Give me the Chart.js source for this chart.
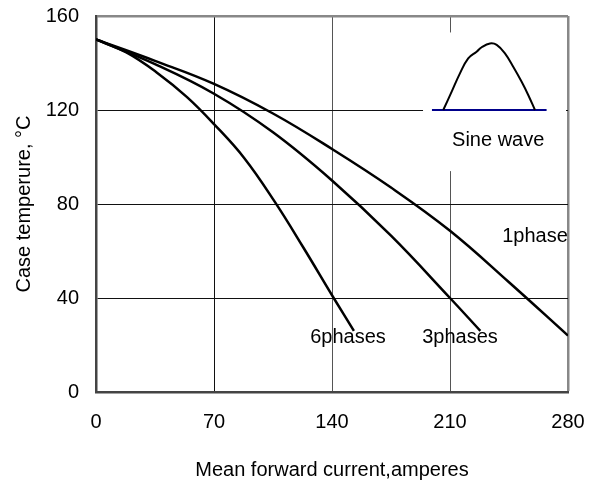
<!DOCTYPE html>
<html><head><meta charset="utf-8">
<script src="https://cdn.jsdelivr.net/npm/chart.js@4"></script>
<style>html,body{margin:0;padding:0;background:#fff}#wrap{width:597px;height:484px}</style>
</head><body><div id="wrap"><canvas id="c" width="597" height="484"></canvas></div>
<script>
const xTicks = [0, 70, 140, 210, 280];
const yTicks = [0, 40, 80, 120, 160];
const phase1X = [0, 35, 70, 105, 140, 175, 210, 245, 280];
const phase1Y = [150, 140.9, 131.1, 118.5, 103.4, 87, 68.6, 46.7, 24];
const phase3X = [0, 35, 70, 105, 140, 175, 210, 228];
const phase3Y = [150, 139.5, 126.9, 110.5, 90, 66.5, 40, 26];
const phase6X = [0, 18, 36, 54, 70, 88, 106, 123, 141, 153];
const phase6Y = [150, 144.5, 136, 125.5, 114, 99.5, 81, 61.5, 40, 26];
const sineX = [206, 211, 215.9, 220.8, 225.8, 228.8, 233.7, 237.7, 242.6, 247.5, 252.5, 256.4, 260.4];
const sineY = [120, 127.8, 135.6, 142, 144.8, 146.7, 148.3, 147.7, 144.1, 138.4, 132, 126.4, 120];
const baseX = [199.3, 267.3];
const baseY = [120, 120];
const labelText = ['1phase', '3phases', '6phases', 'Sine wave'];
const labelX = [260.4, 215.9, 149.5, 238.6];
const labelY = [66, 23, 23, 107];

const FONT = "'Liberation Sans', Arial, sans-serif";
const FS = 20;
const pts = (xs, ys) => xs.map((x, i) => ({x, y: ys[i]}));

const insetPlugin = {
  id: 'inset',
  beforeDatasetsDraw(chart) {
    const {ctx, scales: {x, y}} = chart;
    ctx.save();
    ctx.fillStyle = '#fff';
    const l = x.getPixelForValue(194), r = x.getPixelForValue(280) - 2;
    const t = y.getPixelForValue(153), b = y.getPixelForValue(94);
    ctx.fillRect(l, t, r - l, b - t);
    ctx.restore();
  },
  afterDatasetsDraw(chart) {
    const {ctx, scales: {x, y}} = chart;
    ctx.save();
    ctx.fillStyle = '#000';
    ctx.font = FS + 'px ' + FONT;
    ctx.textAlign = 'center';
    ctx.textBaseline = 'middle';
    labelText.forEach((t, i) => {
      ctx.fillText(t, x.getPixelForValue(labelX[i]), y.getPixelForValue(labelY[i]));
    });
    ctx.restore();
  }
};

const lineDs = (data) => ({data, borderColor: '#000', borderWidth: 2.5, pointRadius: 0, tension: 0.4, fill: false});

new Chart(document.getElementById('c'), {
  type: 'scatter',
  data: {
    datasets: [
      lineDs(pts(phase1X, phase1Y)),
      lineDs(pts(phase3X, phase3Y)),
      lineDs(pts(phase6X, phase6Y)),
      Object.assign(lineDs(pts(sineX, sineY)), {borderWidth: 2}),
      {data: pts(baseX, baseY), borderColor: '#00008b', borderWidth: 2, pointRadius: 0, tension: 0}
    ].map(d => Object.assign({showLine: true}, d))
  },
  options: {
    responsive: false,
    animation: false,
    devicePixelRatio: 1,
    layout: {padding: 0},
    plugins: {legend: {display: false}, tooltip: {enabled: false}},
    scales: {
      x: {
        type: 'linear', min: 0, max: 280,
        afterBuildTicks(s) { s.ticks = xTicks.map(v => ({value: v})); },
        afterFit(s) { s.height = 92; s.paddingLeft = 0; s.paddingRight = 29; },
        ticks: {font: {family: FONT, size: FS}, color: '#000', padding: 18, maxRotation: 0},
        grid: {
          drawTicks: false,
          color: c => c.tick && c.tick.value === 280 ? '#888' : (c.tick && c.tick.value === 70 ? '#111' : '#555'),
          lineWidth: c => c.tick && c.tick.value === 280 ? 2.5 : 1
        },
        border: {color: '#444', width: 2.5},
        title: {display: true, text: 'Mean forward current,amperes', font: {family: FONT, size: FS}, color: '#000', padding: {top: 6, bottom: 2}}
      },
      y: {
        type: 'linear', min: 0, max: 160,
        afterBuildTicks(s) { s.ticks = yTicks.map(v => ({value: v})); },
        afterFit(s) { s.width = 96; s.paddingTop = 16; s.paddingBottom = 0; },
        ticks: {font: {family: FONT, size: FS}, color: '#000', padding: 17},
        grid: {
          drawTicks: false,
          color: c => c.tick && c.tick.value === 160 ? '#888' : '#111',
          lineWidth: c => c.tick && c.tick.value === 160 ? 2.5 : 1
        },
        border: {color: '#444', width: 2.5},
        title: {display: true, text: 'Case temperure, °C', font: {family: FONT, size: FS}, color: '#000', padding: {top: 12, bottom: 0}}
      }
    }
  },
  plugins: [insetPlugin]
});
</script>
</body></html>
